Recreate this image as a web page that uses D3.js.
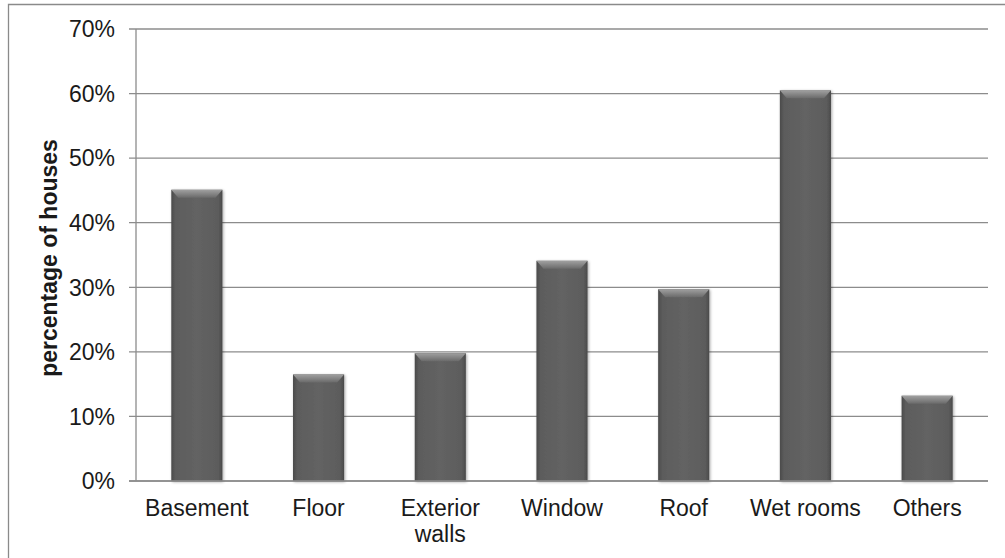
<!DOCTYPE html>
<html>
<head>
<meta charset="utf-8">
<script src="https://cdn.jsdelivr.net/npm/d3@7"></script>
<style>
  html, body { margin: 0; padding: 0; background: #fff; }
  svg { display: block; }
  text { font-family: "Liberation Sans", Arial, sans-serif; fill: #1a1a1a; }
</style>
</head>
<body>
<svg id="chart" width="1005" height="558"></svg>
<script>
// Share of houses with moisture damage, by location
const categories = ["Basement", "Floor", "Exterior walls", "Window", "Roof", "Wet rooms", "Others"];
const values = [45.1, 16.5, 19.8, 34.1, 29.7, 60.5, 13.2];
const yTicks = [0, 10, 20, 30, 40, 50, 60, 70];
const yLabel = "percentage of houses";

const svg = d3.select("#chart");
const W = 1005, H = 558;
const plot = { left: 136, right: 988, top: 29, bottom: 481 };

// outer frame
svg.append("path")
  .attr("d", `M8.5,${H} V4.5 H${W}`)
  .attr("fill", "none").attr("stroke", "#8a8a8a").attr("stroke-width", 1.3);

const x = d3.scaleBand().domain(categories).range([plot.left, plot.right]).paddingInner(0.58).paddingOuter(0.29);
const y = d3.scaleLinear().domain([0, 70]).range([plot.bottom, plot.top]);

const defs = svg.append("defs");
const side = defs.append("linearGradient").attr("id", "barSide").attr("x1", 0).attr("x2", 1).attr("y1", 0).attr("y2", 0);
[[0, "#4a4a4a"], [0.08, "#5c5c5c"], [0.5, "#636363"], [0.92, "#5c5c5c"], [1, "#4a4a4a"]]
  .forEach(([o, c]) => side.append("stop").attr("offset", o).attr("stop-color", c));
const bevel = defs.append("linearGradient").attr("id", "barTop").attr("x1", 0).attr("x2", 0).attr("y1", 0).attr("y2", 1);
[[0, "#a0a0a0"], [0.45, "#888888"], [1, "#6a6a6a"]]
  .forEach(([o, c]) => bevel.append("stop").attr("offset", o).attr("stop-color", c));
const shadow = defs.append("filter").attr("id", "shadow").attr("x", "-20%").attr("y", "-10%").attr("width", "140%").attr("height", "120%");
shadow.append("feGaussianBlur").attr("in", "SourceAlpha").attr("stdDeviation", 1.6).attr("result", "b");
shadow.append("feOffset").attr("in", "b").attr("dx", 0.5).attr("dy", 1).attr("result", "o");
shadow.append("feComponentTransfer").attr("in", "o").attr("result", "s")
  .append("feFuncA").attr("type", "linear").attr("slope", 0.35);
const merge = shadow.append("feMerge");
merge.append("feMergeNode").attr("in", "s");
merge.append("feMergeNode").attr("in", "SourceGraphic");

// gridlines with tick stubs
const grid = svg.append("g");
grid.selectAll("line").data(yTicks).join("line")
  .attr("x1", plot.left - 7).attr("x2", plot.right)
  .attr("y1", d => y(d)).attr("y2", d => y(d))
  .attr("stroke", "#8c8c8c").attr("stroke-width", 1.3);

// y axis line
svg.append("line")
  .attr("x1", plot.left).attr("x2", plot.left)
  .attr("y1", y(70)).attr("y2", y(0))
  .attr("stroke", "#8c8c8c").attr("stroke-width", 1.3);

// y tick labels
svg.append("g").selectAll("text").data(yTicks).join("text")
  .attr("x", 115).attr("y", d => y(d)).attr("dy", "0.36em")
  .attr("text-anchor", "end").attr("font-size", 23)
  .text(d => d + "%");

// y axis title
svg.append("text")
  .attr("transform", `translate(57,258) rotate(-90)`)
  .attr("text-anchor", "middle").attr("font-size", 23).attr("font-weight", "bold")
  .text(yLabel);

// bars
const bars = svg.append("g").selectAll("g").data(categories).join("g")
  .attr("filter", "url(#shadow)");
bars.append("rect")
  .attr("x", d => x(d)).attr("width", x.bandwidth())
  .attr("y", (d, i) => y(values[i])).attr("height", (d, i) => y(0) - y(values[i]))
  .attr("fill", "url(#barSide)");
bars.append("path")
  .attr("d", (d, i) => {
    const x0 = x(d), x1 = x(d) + x.bandwidth(), t = y(values[i]), b = 8, s = 7;
    return `M${x0},${t} H${x1} L${x1 - s},${t + b} H${x0 + s} Z`;
  })
  .attr("fill", "url(#barTop)");

// x axis line drawn over bar bases
svg.append("line")
  .attr("x1", plot.left - 7).attr("x2", plot.right)
  .attr("y1", y(0)).attr("y2", y(0))
  .attr("stroke", "#8c8c8c").attr("stroke-width", 1.3);

// category labels, wrapping two-word names
const labels = svg.append("g").selectAll("text").data(categories).join("text")
  .attr("x", d => x(d) + x.bandwidth() / 2).attr("y", 516)
  .attr("text-anchor", "middle").attr("font-size", 23);
labels.each(function (d) {
  const words = d === "Exterior walls" ? ["Exterior", "walls"] : [d];
  d3.select(this).selectAll("tspan").data(words).join("tspan")
    .attr("x", x(d) + x.bandwidth() / 2)
    .attr("dy", (w, i) => i === 0 ? 0 : 26)
    .text(w => w);
});
</script>
</body>
</html>
